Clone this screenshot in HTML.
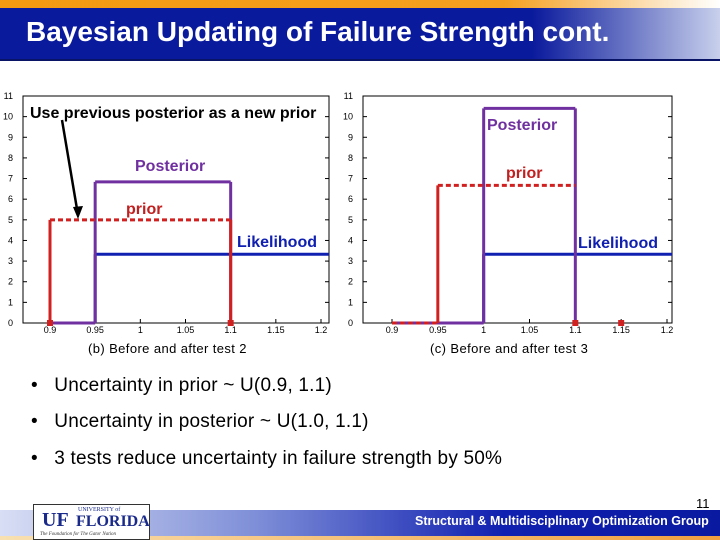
<!DOCTYPE html>
<html><head><meta charset="utf-8"><style>
body{margin:0;width:720px;height:540px;overflow:hidden;background:#fff;font-family:"Liberation Sans",sans-serif;position:relative}
.abs{position:absolute}
.bl{font-size:19px;letter-spacing:0.2px}
</style></head><body>
<div class="abs" style="left:0;top:0;width:720px;height:8px;background:linear-gradient(90deg,#f39a10 0%,#f5a020 70%,#fff 100%)"></div>
<div class="abs" style="left:0;top:8px;width:720px;height:51px;background:linear-gradient(90deg,#0a1a9c 0%,#0a1a9c 74%,#c8d0ec 100%);border-bottom:2px solid #0a1466"></div>
<div class="abs" style="left:26px;top:16px;color:#fff;font-weight:bold;font-size:28px">Bayesian Updating of Failure Strength cont.</div>

<svg class="abs" style="left:0;top:0" width="720" height="540" id="svg"></svg>

<div class="abs bl" style="left:31px;top:375px">•&nbsp;&nbsp; Uncertainty in prior ~ U(0.9, 1.1)</div>
<div class="abs bl" style="left:31px;top:411px">•&nbsp;&nbsp; Uncertainty in posterior ~ U(1.0, 1.1)</div>
<div class="abs bl" style="left:31px;top:448px">•&nbsp;&nbsp; 3 tests reduce uncertainty in failure strength by 50%</div>

<div class="abs" style="left:0;top:510px;width:720px;height:26px;background:linear-gradient(90deg,#d8def4 0%,#8090d8 35%,#1020b0 70%,#0a1aa0 100%)"></div>
<div class="abs" style="left:0;top:536px;width:720px;height:4px;background:linear-gradient(90deg,#f8e0b0,#f0a040)"></div>
<div class="abs" style="left:696px;top:496px;font-size:13px">11</div>
<div class="abs" style="left:415px;top:514px;font-size:12.5px;font-weight:bold;color:#fff">Structural &amp; Multidisciplinary Optimization Group</div>
<div class="abs" style="left:33px;top:504px;width:117px;height:36px;background:#fff;border:1px solid #333;box-sizing:border-box">
<span style="position:absolute;left:8px;top:4px;font:bold 20px 'Liberation Serif',serif;color:#1a2a8a">UF</span>
<span style="position:absolute;left:44px;top:2px;font:6px 'Liberation Serif',serif;color:#1a2a8a">UNIVERSITY of</span>
<span style="position:absolute;left:42px;top:8px;font:bold 16px 'Liberation Serif',serif;color:#1a2a8a">FLORIDA</span>
<span style="position:absolute;left:6px;top:27px;font:italic 5px 'Liberation Serif',serif;color:#333">The Foundation for The Gator Nation</span>
</div>

<script>
const xTicks=[0.9,0.95,1,1.05,1.1,1.15,1.2];
const xTickLabels=["0.9","0.95","1","1.05","1.1","1.15","1.2"];
const yTicks=[0,1,2,3,4,5,6,7,8,9,10,11];
// chart b
const bPriorX=[0.9,0.9,1.1,1.1];const bPriorY=[0,5,5,0];
const bPostX=[0.9,0.95,0.95,1.1,1.1];const bPostY=[0,0,6.84,6.84,0];
const bLikeX=[0.95,0.95,1.25];const bLikeY=[0,3.33,3.33];
const bDotX=[0.9,1.1];const bDotY=[0,0];
// chart c
const cPriorX=[0.9,0.95,0.95,1.1];const cPriorY=[0,0,6.67,6.67];
const cPostX=[0.9,1.0,1.0,1.1,1.1];const cPostY=[0,0,10.4,10.4,0];
const cLikeX=[1.0,1.0,1.25];const cLikeY=[0,3.33,3.33];
const cDotX=[1.1,1.15];const cDotY=[0,0];

const svg=document.getElementById('svg');const NS='http://www.w3.org/2000/svg';
function mk(t,a,p){const e=document.createElementNS(NS,t);for(const k in a)e.setAttribute(k,a[k]);(p||svg).appendChild(e);return e;}
function chart(name,L,R,x09,x12,caption,capX,series,dots,labels){
  const g=mk('g',{});
  
  
  const yB=323,yT=96;
  const sx=v=>Math.min(R,x09+(v-0.9)*(x12-x09)/0.3);
  const sy=v=>yB-(v/11)*(yB-yT);
  const ax=mk('rect',{x:L,y:yT,width:R-L,height:yB-yT,fill:'none',stroke:'#000','stroke-width':1},g);
  
  
  yTicks.forEach(v=>{
    mk('line',{x1:L,x2:L+4,y1:sy(v),y2:sy(v),stroke:'#000'},g);
    mk('line',{x1:R,x2:R-4,y1:sy(v),y2:sy(v),stroke:'#000'},g);
    const t=mk('text',{x:L-10,y:sy(v)+3,'font-size':9,'text-anchor':'end','font-family':'Liberation Sans'},g);
    t.textContent=v;
    
    
  });
  xTicks.forEach((v,i)=>{
    mk('line',{x1:sx(v),x2:sx(v),y1:yB,y2:yB-4,stroke:'#000'},g);
    const t=mk('text',{x:sx(v),y:yB+10,'font-size':9,'text-anchor':'middle','font-family':'Liberation Sans'},g);
    t.textContent=xTickLabels[i];
    
    
  });
  series.forEach(s=>{
    for(let i=0;i<s.x.length-1;i++){
      const horiz=s.y[i]===s.y[i+1];
      const p=mk('line',{x1:sx(s.x[i]),y1:sy(s.y[i]),x2:sx(s.x[i+1]),y2:sy(s.y[i+1]),stroke:s.c,'stroke-width':3},g);
      if(s.d&&horiz)p.setAttribute('stroke-dasharray',s.d);
      
      
    }
  });
  dots.x.forEach((v,i)=>{
    const r=mk('rect',{x:sx(v)-3,y:sy(dots.y[i])-3,width:6,height:6,fill:'#d02020'},g);
    
    
  });
  labels.forEach(l=>{
    const t=mk('text',{x:l.x,y:l.y,'font-size':l.s||16,fill:l.c,'font-weight':'bold','font-family':'Liberation Sans'},g);
    t.textContent=l.t;
    
    
  });
  const c=mk('text',{x:capX,y:353,'font-size':13,'letter-spacing':'0.4','font-family':'Liberation Sans'},g);
  c.textContent=caption;
  
  
}
chart('chart-b',23,329,50,321,'(b) Before and after test 2',88,[
 {x:bLikeX,y:bLikeY,c:'#1020b0',n:'likelihood-line'},
 {x:bPostX,y:bPostY,c:'#7030a0',n:'posterior-line'},
 {x:bPriorX,y:bPriorY,c:'#d02020',d:'5,3',n:'prior-line'}
],{x:bDotX,y:bDotY},[
 {x:30,y:118,t:'Use previous posterior as a new prior',c:'#000',s:16,n:'annotation'},
 {x:135,y:171,t:'Posterior',c:'#7030a0',n:'posterior-label'},
 {x:126,y:214,t:'prior',c:'#c02020',n:'prior-label'},
 {x:237,y:247,t:'Likelihood',c:'#1020b0',n:'likelihood-label'}
]);
chart('chart-c',363,672,392,667,'(c) Before and after test 3',430,[
 {x:cLikeX,y:cLikeY,c:'#1020b0',n:'likelihood-line'},
 {x:cPostX,y:cPostY,c:'#7030a0',n:'posterior-line'},
 {x:cPriorX,y:cPriorY,c:'#d02020',d:'5,3',n:'prior-line'}
],{x:cDotX,y:cDotY},[
 {x:487,y:130,t:'Posterior',c:'#7030a0',n:'posterior-label'},
 {x:506,y:178,t:'prior',c:'#c02020',n:'prior-label'},
 {x:578,y:248,t:'Likelihood',c:'#1020b0',n:'likelihood-label'}
]);
// arrow
const a=mk('line',{x1:62,y1:120,x2:78,y2:215,stroke:'#000','stroke-width':2.5});


const h=mk('polygon',{points:'78,219 73,207 83,206',fill:'#000'});


</script>
</body></html>
